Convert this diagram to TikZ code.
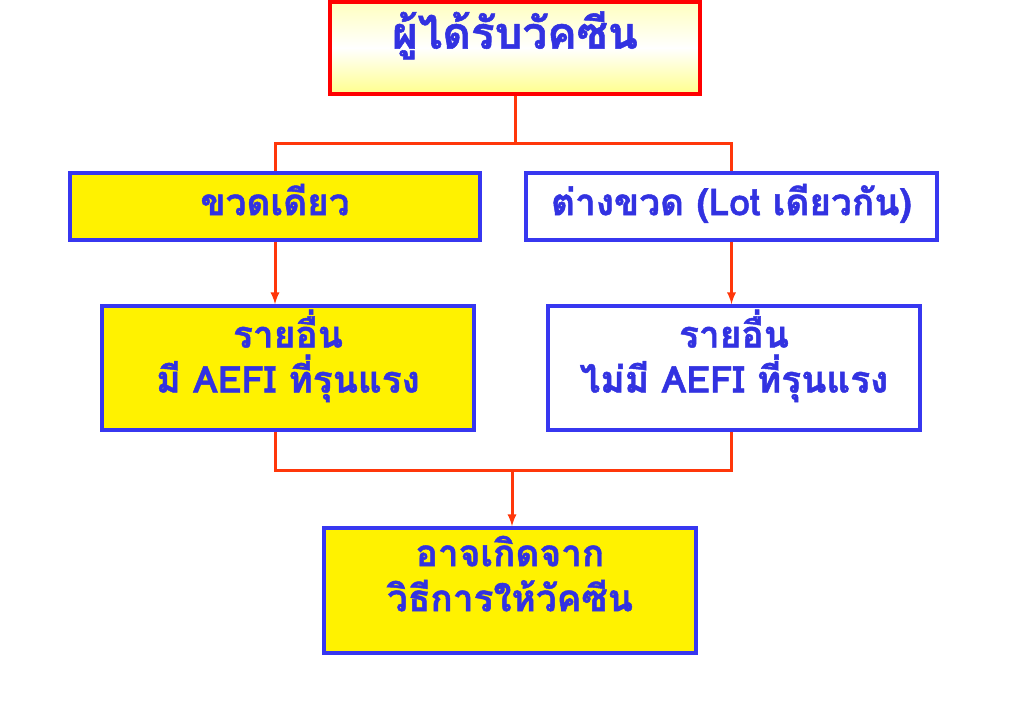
\documentclass[tikz,border=0pt]{standalone}
\usepackage{fontspec}
\newfontfamily\thaifont[Script=Thai, BoldFeatures={FakeBold=1.2}]{Loma}
\usepackage{tikz}
\tikzset{>=latex}
\definecolor{boxblue}{RGB}{55,55,240}
\definecolor{txtblue}{RGB}{50,50,225}
\definecolor{linkred}{RGB}{255,55,10}

\begin{document}
\begin{tikzpicture}[x=1pt, y=-1pt,
    box/.style={draw=boxblue, line width=3.5pt, font=\thaifont\bfseries\fontsize{37}{45}\selectfont, text=txtblue, align=center, inner sep=0pt},
    yelbox/.style={box, fill=yellow},
    whitebox/.style={box, fill=white},
    raised/.style={text depth=34pt},
    link/.style={draw=linkred, line width=3pt}]
    \useasboundingbox (0, 0) rectangle (1023, 708);
    \node [box, draw=red, top color=yellow!25, bottom color=yellow!45, middle color=white, minimum width=370, minimum height=92, text depth=36pt, font=\thaifont\bfseries\fontsize{44}{48}\selectfont] (vacc) at (515, 48) {ผู้ได้รับวัคซีน};
    \node [yelbox, minimum width=410, minimum height=67, text depth=14pt] (same) at (275, 206.5) {ขวดเดียว};
    \node [whitebox, minimum width=411, minimum height=67, text depth=14pt] (diff) at (731.5, 206.5) {ต่างขวด (Lot เดียวกัน)};
    \node [yelbox, raised, minimum width=372, minimum height=124] (sameA) at (288, 368) {รายอื่น\\มี AEFI ที่รุนแรง};
    \node [whitebox, raised, minimum width=372, minimum height=124] (diffA) at (734, 368) {รายอื่น\\ไม่มี AEFI ที่รุนแรง};
    \node [yelbox, raised, minimum width=372, minimum height=125] (cause) at (510, 590.5) {อาจเกิดจาก\\วิธีการให้วัคซีน};
    \path (vacc.south) ++(0, 48) coordinate (split);
    \coordinate (merge) at (512, 470);
    \draw [link] (vacc.south) -- (split);
    \draw [link] (same.north) |- (split) -| (diff.north);
    \draw [link, ->] (same.south) -- (same.south |- sameA.north);
    \draw [link, ->] (diff.south) -- (diff.south |- diffA.north);
    \draw [link] (sameA.south -| same.south) |- (merge) -| (diffA.south -| diff.south);
    \draw [link, ->] (merge) -- (merge |- cause.north);
\end{tikzpicture}
\end{document}
